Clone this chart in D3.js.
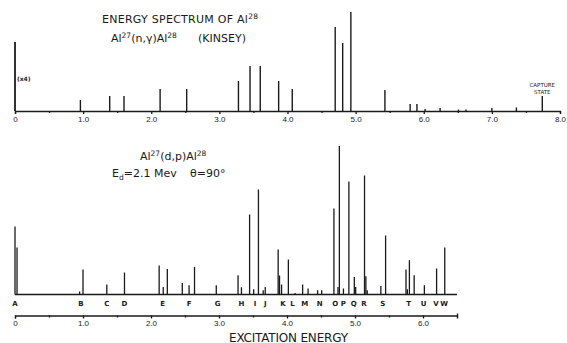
<!DOCTYPE html>
<html>
<head>
<meta charset="utf-8">
<script src="https://cdn.jsdelivr.net/npm/d3@7"></script>
<style>
  body { margin: 0; background: #fff; }
  svg { display: block; font-family: "DejaVu Sans", sans-serif; }
  .lbl { fill: #1a1a1a; }
  .axis path, .axis line { stroke: #1a1a1a; stroke-width: 1.3; }
  .axis text { font-size: 8px; fill: #1a1a1a; }
</style>
</head>
<body>
<svg id="chart" width="567" height="343"></svg>
<script>
// Al27(n,gamma)Al28 (Kinsey) - line energies (MeV) and relative heights
var nGammaEnergy = [0, 0.96, 1.39, 1.60, 2.13, 2.52, 3.28, 3.45, 3.60, 3.87, 4.07, 4.70, 4.81, 4.93,
  5.43, 5.80, 5.90, 6.02, 6.24, 6.51, 6.62, 7.00, 7.36, 7.74];
var nGammaHeight = [69, 11, 15, 15, 22, 22, 30, 45, 45, 30, 22, 84, 68, 99,
  21, 7, 7, 2, 3, 1.5, 1.5, 3, 3.5, 15];

// Al27(d,p)Al28 - proton group energies and heights
var dpEnergy = [0.00, 0.03, 0.95, 1.00, 1.35, 1.61, 2.12, 2.18, 2.24, 2.46, 2.56, 2.64, 2.96,
  3.28, 3.33, 3.45, 3.51, 3.58, 3.65, 3.68, 3.87, 3.89, 3.92, 4.02, 4.12, 4.23, 4.31, 4.45, 4.51,
  4.69, 4.75, 4.77, 4.83, 4.91, 4.99, 5.01, 5.14, 5.16, 5.18, 5.38, 5.45, 5.75, 5.77, 5.80, 5.87,
  6.02, 6.20, 6.32];
var dpHeight = [68, 47, 3, 25, 10, 22, 29, 7.6, 25.6, 11.6, 9.3, 27.6, 9.3,
  19.3, 7.3, 80, 5.3, 105, 4.3, 7.6, 45, 19, 10, 35, 1.5, 10, 6, 4.3, 4.3,
  86, 7.6, 148.6, 6, 113, 17.6, 7.6, 119, 18.3, 4.3, 8.6, 59, 25, 5.3, 34.3, 19.3,
  9.3, 26, 47];

// level letters under the (d,p) spectrum
var levelNames = ["A","B","C","D","E","F","G","H","I","J","K","L","M","N","O","P","Q","R","S","T","U","V","W"];
var levelEnergy = [0, 0.97, 1.35, 1.61, 2.17, 2.56, 2.98, 3.33, 3.53, 3.68, 3.94, 4.08, 4.26, 4.48,
  4.71, 4.83, 4.98, 5.13, 5.41, 5.79, 6.01, 6.19, 6.31];

var topTicks = [0,0.5,1,1.5,2,2.5,3,3.5,4,4.5,5,5.5,6,6.5,7,7.5,8];
var bottomTicks = [0,0.5,1,1.5,2,2.5,3,3.5,4,4.5,5,5.5,6,6.5];

var svg = d3.select("#chart");
var ink = "#1a1a1a";

// ---------- upper panel ----------
var xTop = d3.scaleLinear().domain([0, 8]).range([15, 560]);
var yTop = d3.scaleLinear().domain([0, 100]).range([111, 11]);

var gTop = svg.append("g").attr("class", "axis")
  .attr("transform", "translate(0," + yTop(0) + ")")
  .call(d3.axisBottom(xTop).tickValues(topTicks).tickSizeOuter(0).tickSize(3).tickPadding(2)
    .tickFormat(function (d) { return d % 1 ? "" : (d === 0 ? "0" : d.toFixed(1)); }));
gTop.selectAll(".tick").filter(function (d) { return d % 1; }).select("line").attr("y2", 2);

svg.append("line")
  .attr("x1", xTop(0)).attr("x2", xTop(0))
  .attr("y1", yTop(0)).attr("y2", yTop(69))
  .attr("stroke", ink).attr("stroke-width", 1.3);

svg.append("g").selectAll("line")
  .data(nGammaEnergy.map(function (e, i) { return { x: e, y: nGammaHeight[i] }; }))
  .enter().append("line")
  .attr("x1", function (d) { return xTop(d.x); })
  .attr("x2", function (d) { return xTop(d.x); })
  .attr("y1", yTop(0))
  .attr("y2", function (d) { return yTop(d.y); })
  .attr("stroke", ink).attr("stroke-width", 1.4);

svg.append("text").attr("class", "lbl").attr("x", 17).attr("y", 81)
  .style("font-size", "6px").style("font-weight", "bold").text("(x4)");
svg.append("text").attr("class", "lbl").attr("x", xTop(7.74)).attr("y", 87)
  .attr("text-anchor", "middle").style("font-size", "5.5px").text("CAPTURE");
svg.append("text").attr("class", "lbl").attr("x", xTop(7.74)).attr("y", 93.5)
  .attr("text-anchor", "middle").style("font-size", "5.5px").text("STATE");

var t1 = svg.append("text").attr("class", "lbl").attr("x", 102).attr("y", 23)
  .style("font-size", "11px").attr("textLength", 156).attr("lengthAdjust", "spacing");
t1.append("tspan").text("ENERGY  SPECTRUM  OF  Al");
t1.append("tspan").attr("dy", -4).style("font-size", "7.5px").text("28");

var t2 = svg.append("text").attr("class", "lbl").attr("x", 111).attr("y", 42)
  .style("font-size", "11px");
t2.append("tspan").text("Al");
t2.append("tspan").attr("dy", -4).style("font-size", "7.5px").text("27");
t2.append("tspan").attr("dy", 4).text("(n,γ)Al");
t2.append("tspan").attr("dy", -4).style("font-size", "7.5px").text("28");
svg.append("text").attr("class", "lbl").attr("x", 198).attr("y", 42)
  .style("font-size", "11px").text("(KINSEY)");

// ---------- lower panel ----------
var xBot = d3.scaleLinear().domain([0, 6.5]).range([15, 457]);
var yBot = d3.scaleLinear().domain([0, 150]).range([294.5, 144.5]);

svg.append("line")
  .attr("x1", xBot(0)).attr("x2", xBot(6.5))
  .attr("y1", yBot(0)).attr("y2", yBot(0))
  .attr("stroke", ink).attr("stroke-width", 1.3);

svg.append("g").selectAll("line")
  .data(dpEnergy.map(function (e, i) { return { x: e, y: dpHeight[i] }; }))
  .enter().append("line")
  .attr("x1", function (d) { return xBot(d.x); })
  .attr("x2", function (d) { return xBot(d.x); })
  .attr("y1", yBot(0))
  .attr("y2", function (d) { return yBot(d.y); })
  .attr("stroke", ink).attr("stroke-width", 1.3);

svg.append("g").selectAll("text")
  .data(levelNames)
  .enter().append("text").attr("class", "lbl")
  .attr("x", function (d, i) { return xBot(levelEnergy[i]); })
  .attr("y", 305.5)
  .attr("text-anchor", "middle")
  .style("font-size", "7px").style("font-weight", "bold")
  .text(function (d) { return d; });

var gBot = svg.append("g").attr("class", "axis")
  .attr("transform", "translate(0,315.5)")
  .call(d3.axisBottom(xBot).tickValues(bottomTicks).tickSizeOuter(0).tickSize(3).tickPadding(2)
    .tickFormat(function (d) { return d % 1 ? "" : (d === 0 ? "0" : d.toFixed(1)); }));
gBot.selectAll(".tick").filter(function (d) { return d % 1; }).select("line").attr("y2", 2);
gBot.selectAll(".tick").filter(function (d) { return d === 6.5; }).select("line")
  .attr("y1", -2).attr("y2", 2);

var t3 = svg.append("text").attr("class", "lbl").attr("x", 140).attr("y", 160)
  .style("font-size", "11px");
t3.append("tspan").text("Al");
t3.append("tspan").attr("dy", -4).style("font-size", "7.5px").text("27");
t3.append("tspan").attr("dy", 4).text("(d,p)Al");
t3.append("tspan").attr("dy", -4).style("font-size", "7.5px").text("28");

var t4 = svg.append("text").attr("class", "lbl").attr("x", 112).attr("y", 177)
  .style("font-size", "11px");
t4.append("tspan").text("E");
t4.append("tspan").attr("dy", 2.5).style("font-size", "7.5px").text("d");
t4.append("tspan").attr("dy", -2.5).text("=2.1 Mev");
svg.append("text").attr("class", "lbl").attr("x", 190).attr("y", 177)
  .style("font-size", "11px").text("θ=90°");

svg.append("text").attr("class", "lbl").attr("x", 229).attr("y", 341.5)
  .style("font-size", "12px").attr("textLength", 119).attr("lengthAdjust", "spacing")
  .text("EXCITATION  ENERGY");
</script>
</body>
</html>
